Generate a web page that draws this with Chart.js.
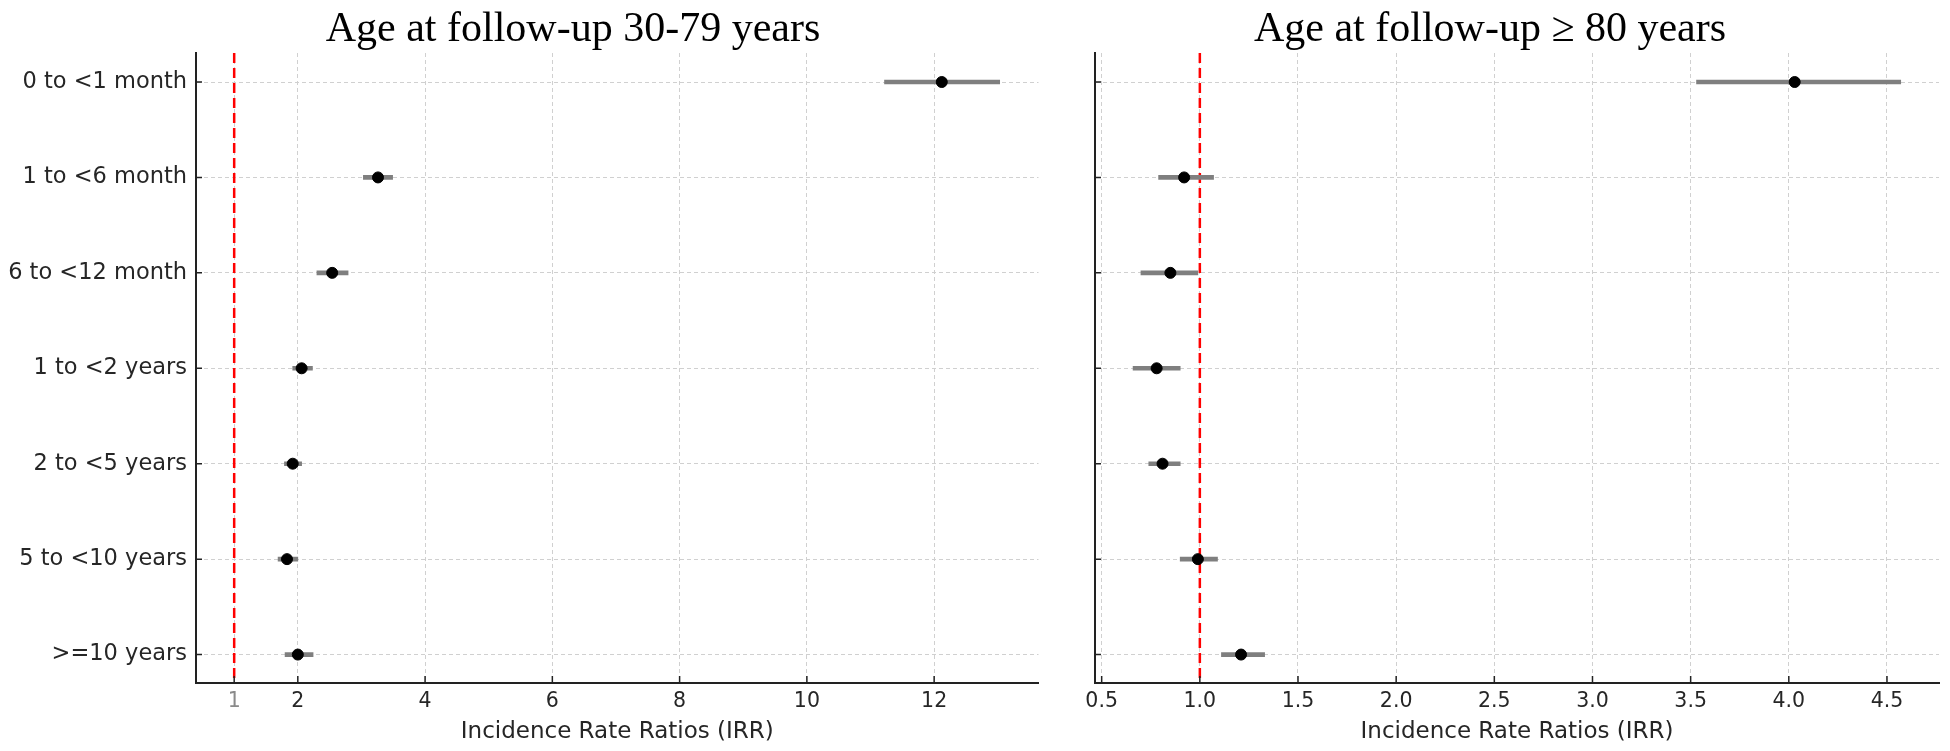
<!DOCTYPE html>
<html>
<head>
<meta charset="utf-8">
<script src="https://cdn.jsdelivr.net/npm/chart.js@4.4.1/dist/chart.umd.min.js"></script>
<style>
  html, body { margin: 0; padding: 0; background: #fff; }
  #wrap { position: relative; width: 1950px; height: 751px; overflow: hidden; }
  canvas { position: absolute; top: 0; }
  #left { left: 0; }
  #right { left: 1045px; }
</style>
</head>
<body>
<div id="wrap">
  <canvas id="left" width="1045" height="751"></canvas>
  <canvas id="right" width="905" height="751"></canvas>
</div>
<script>
const categories = ['0 to <1 month', '1 to <6 month', '6 to <12 month', '1 to <2 years',
  '2 to <5 years', '5 to <10 years', '>=10 years'];

// age at follow-up 30-79
const irrYoung = [12.12, 3.26, 2.54, 2.06, 1.92, 1.83, 2.00];
const lowYoung = [11.22, 3.03, 2.30, 1.92, 1.79, 1.69, 1.80];
const highYoung = [13.03, 3.49, 2.79, 2.23, 2.06, 2.00, 2.24];
const ticksYoung = [1, 2, 4, 6, 8, 10, 12];

// age at follow-up >= 80
const irrOld = [4.03, 0.92, 0.85, 0.78, 0.81, 0.99, 1.21];
const lowOld = [3.53, 0.79, 0.70, 0.66, 0.74, 0.90, 1.11];
const highOld = [4.57, 1.07, 0.99, 0.90, 0.90, 1.09, 1.33];
const ticksOld = [0.5, 1.0, 1.5, 2.0, 2.5, 3.0, 3.5, 4.0, 4.5];

const refValue = 1;

const sans = '"DejaVu Sans", sans-serif';

// red dashed reference line at IRR = 1
const refLine = {
  id: 'refLine',
  beforeDatasetsDraw(chart, args, opts) {
    const { ctx, chartArea } = chart;
    const x = chart.scales.x.getPixelForValue(opts.value);
    ctx.save();
    ctx.strokeStyle = '#ff0000';
    ctx.lineWidth = 2.5;
    ctx.setLineDash([10, 5]);
    ctx.beginPath();
    ctx.moveTo(x, chartArea.top);
    ctx.lineTo(x, chartArea.bottom);
    ctx.stroke();
    ctx.restore();
  }
};

// matplotlib style inward tick marks
const innerTicks = {
  id: 'innerTicks',
  afterDraw(chart) {
    const { ctx, chartArea, scales } = chart;
    ctx.save();
    ctx.strokeStyle = '#222';
    ctx.lineWidth = 1.5;
    ctx.beginPath();
    scales.x.ticks.forEach((t) => {
      const x = scales.x.getPixelForValue(t.value);
      ctx.moveTo(x, chartArea.bottom);
      ctx.lineTo(x, chartArea.bottom - 7);
    });
    scales.y.ticks.forEach((t) => {
      const y = scales.y.getPixelForValue(t.value);
      ctx.moveTo(chartArea.left, y);
      ctx.lineTo(chartArea.left + 6, y);
    });
    ctx.stroke();
    ctx.restore();
  }
};

const panelTitle = {
  id: 'panelTitle',
  afterDraw(chart, args, opts) {
    const ctx = chart.ctx;
    ctx.save();
    ctx.font = '42px "Liberation Serif", "Times New Roman", serif';
    ctx.fillStyle = '#000';
    ctx.textAlign = 'center';
    ctx.textBaseline = 'alphabetic';
    ctx.fillText(opts.text, opts.x, opts.y);
    ctx.restore();
  }
};

function makePanel(id, irr, low, high, xTicks, cfg) {
  return new Chart(document.getElementById(id), {
    type: 'scatter',
    data: {
      datasets: [
        {
          type: 'bar',
          indexAxis: 'y',
          data: irr.map((v, i) => ({ x: [low[i], high[i]], y: i })),
          backgroundColor: '#7f7f7f',
          barThickness: 4,
          order: 2
        },
        {
          type: 'scatter',
          data: irr.map((v, i) => ({ x: v, y: i })),
          pointRadius: 5.5,
          pointBorderWidth: 1,
          backgroundColor: '#000',
          borderColor: '#000',
          order: 1
        }
      ]
    },
    options: {
      responsive: false,
      animation: false,
      layout: { padding: { top: 53, right: cfg.padRight, left: 0, bottom: 0 } },
      plugins: {
        legend: { display: false },
        tooltip: { enabled: false },
        refLine: { value: refValue },
        panelTitle: { text: cfg.title, x: cfg.titleX, y: 41 }
      },
      scales: {
        x: {
          type: 'linear',
          min: cfg.xMin,
          max: cfg.xMax,
          offset: false,
          afterBuildTicks: (s) => { s.ticks = xTicks.map((v) => ({ value: v })); },
          afterFit: (s) => { s.height = 68; },
          ticks: {
            autoSkip: false,
            maxRotation: 0,
            padding: 6,
            font: { family: sans, size: 20.5 },
            color: (c) => (c.tick && c.tick.value === cfg.fadedTick ? '#8a8a8a' : '#262626'),
            callback: cfg.fmt
          },
          grid: { offset: false, color: '#d0d0d0', lineWidth: 1, drawTicks: false },
          border: { color: '#222', width: 2, dash: [4, 3] },
          title: {
            display: true,
            text: 'Incidence Rate Ratios (IRR)',
            color: '#262626',
            font: { family: sans, size: 23 },
            padding: { top: 0, bottom: 5 }
          }
        },
        y: {
          type: 'linear',
          reverse: true,
          min: -0.304,
          max: 6.298,
          offset: false,
          afterBuildTicks: (s) => { s.ticks = categories.map((c, i) => ({ value: i })); },
          afterFit: (s) => { s.width = cfg.yWidth; },
          ticks: {
            display: cfg.showLabels,
            autoSkip: false,
            padding: 9,
            font: { family: sans, size: 22.5 },
            color: '#262626',
            callback: (v) => categories[v]
          },
          grid: { offset: false, color: '#d0d0d0', lineWidth: 1, drawTicks: false },
          border: { color: '#222', width: 2, dash: [4, 3] }
        }
      }
    },
    plugins: [refLine, innerTicks, panelTitle]
  });
}

makePanel('left', irrYoung, lowYoung, highYoung, ticksYoung, {
  title: 'Age at follow-up 30-79 years',
  titleX: 573,
  xMin: 0.4,
  xMax: 13.64,
  yWidth: 196,
  padRight: 6,
  showLabels: true,
  fadedTick: 1,
  fmt: (v) => String(v)
});

makePanel('right', irrOld, lowOld, highOld, ticksOld, {
  title: 'Age at follow-up \u2265 80 years',
  titleX: 445,
  xMin: 0.466,
  xMax: 4.765,
  yWidth: 50,
  padRight: 11,
  showLabels: false,
  fadedTick: null,
  fmt: (v) => v.toFixed(1)
});
</script>
</body>
</html>
